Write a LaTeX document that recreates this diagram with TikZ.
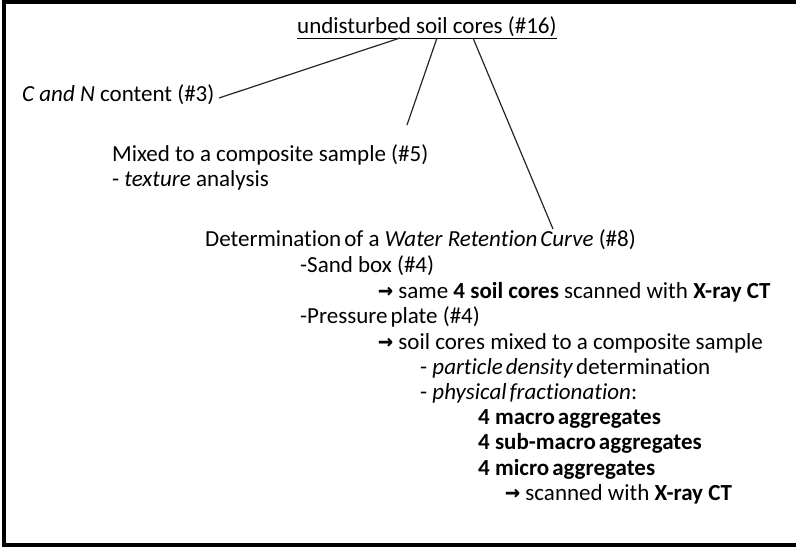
\documentclass[tikz,border=0pt]{standalone}
\usepackage{fontspec}
\setmainfont[Ligatures={NoCommon,NoContextual}]{Carlito}
\newfontfamily\arrfont{DejaVu Sans Mono}
\newcommand{\myarr}{{\arrfont\bfseries\fontsize{25}{25}\selectfont →}}
\newcommand{\tsp}{\hskip 3pt\relax}
\begin{document}
\begin{tikzpicture}[x=1pt,y=-1pt,
  txt/.style={anchor=base west,inner sep=0pt,font=\fontsize{23}{25}\selectfont},
  conn/.style={line width=1.2pt,draw=black!85}]
\useasboundingbox (0,0) rectangle (796,547);
\draw[line width=4pt] (796,1.5) -- (3.5,1.5) -- (3.5,544.5) -- (796,544.5);
\node[txt] (top) at (297,33) {undisturbed soil cores (\#16)};
\draw[line width=1pt] (top.base west)++(0,5) -- ([yshift=-5pt]top.base east);
\node[txt] (cn) at (22,101) {\textit{C and N} content (\#3)};
\node[txt] (mix) at (112,161) {Mixed to a composite sample (\#5)};
\node[txt] (tex) at (112,186) {- \textit{texture} analysis};
\node[txt] (wrc) at (205,246) {Determination\tsp of a \textit{Water Retention\tsp Curve} (\#8)};
\node[txt] (sand) at (300,272) {-Sand box (\#4)};
\node[txt] (same) at (378,298) {\myarr{} same \textbf{4 soil cores} scanned with \textbf{X-ray CT}};
\node[txt] (press) at (300,323) {-Pressure\tsp plate (\#4)};
\node[txt] (mixed) at (378,349) {\myarr{} soil cores mixed to a composite sample};
\node[txt] (pd) at (420,374) {- \textit{particle\tsp density}\tsp determination};
\node[txt] (pf) at (420,399) {- \textit{physical\tsp fractionation}:};
\node[txt] (ma) at (478,424) {\textbf{4 macro\tsp aggregates}};
\node[txt] (sma) at (478,449) {\textbf{4 sub-macro\tsp aggregates}};
\node[txt] (mi) at (478,475) {\textbf{4 micro\tsp aggregates}};
\node[txt] (scan) at (505,500) {\myarr{} scanned with \textbf{X-ray CT}};
\coordinate (u1) at (400,38);
\coordinate (u2) at (437,38);
\coordinate (u3) at (473,38);
\coordinate (e1) at (219,98);
\coordinate (e2) at (407,125);
\coordinate (e3) at (553,229);
\draw[conn] (u1) -- (e1);
\draw[conn] (u2) -- (e2);
\draw[conn] (u3) -- (e3);
\end{tikzpicture}
\end{document}
